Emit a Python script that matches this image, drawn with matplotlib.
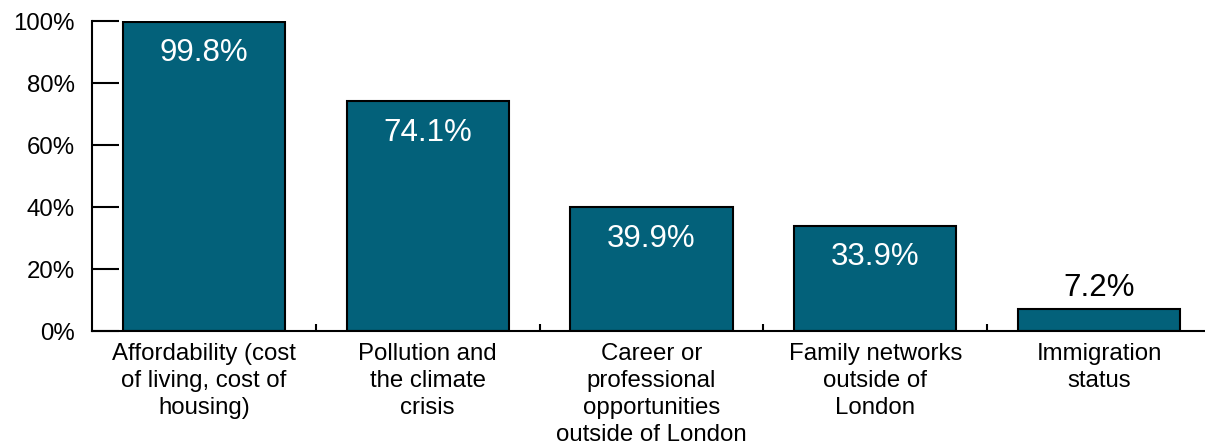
import matplotlib.pyplot as plt
from matplotlib.ticker import FixedLocator, PercentFormatter

plt.rcParams['font.family'] = ['Liberation Sans', 'DejaVu Sans']

categories = [
    "Affordability (cost\nof living, cost of\nhousing)",
    "Pollution and\nthe climate\ncrisis",
    "Career or\nprofessional\nopportunities\noutside of London",
    "Family networks\noutside of\nLondon",
    "Immigration\nstatus",
]
values = [99.8, 74.1, 39.9, 33.9, 7.2]

bar_color = "#03617a"

fig = plt.figure(figsize=(12.05, 4.48), dpi=100)
ax = fig.add_axes([0.0763, 0.261, 0.9286, 0.692])

x = list(range(len(values)))
bars = ax.bar(x, values, width=0.725, color=bar_color, edgecolor="black",
              linewidth=1.5, zorder=2)

# value labels: white inside the tall bars, black above the short one
for xi, v in zip(x, values):
    if v > 20:
        ax.annotate(f"{v}%", (xi, v), xytext=(0, -22.5), textcoords="offset points",
                    ha="center", va="center", color="white", fontsize=22.5)
    else:
        ax.annotate(f"{v}%", (xi, v), xytext=(0, 15), textcoords="offset points",
                    ha="center", va="center", color="black", fontsize=22.5)

ax.set_xlim(-0.5, len(values) - 0.5)
ax.set_ylim(0, 100)
ax.set_yticks([0, 20, 40, 60, 80, 100])
ax.yaxis.set_major_formatter(PercentFormatter(decimals=0))
ax.set_xticks(x)
ax.set_xticklabels(categories, fontsize=17.3, linespacing=1.3)
ax.xaxis.set_minor_locator(FixedLocator([i + 0.5 for i in x[:-1]]))

ax.tick_params(axis="y", direction="in", length=19.5, width=1.5, pad=12.5,
               labelsize=17.3)
ax.tick_params(axis="x", which="major", length=0, pad=8.5)
ax.tick_params(axis="x", which="minor", direction="in", length=5, width=1.5)

for side in ("top", "right"):
    ax.spines[side].set_visible(False)
for side in ("left", "bottom"):
    ax.spines[side].set_linewidth(1.5)

fig.savefig("out.png", dpi=100)
